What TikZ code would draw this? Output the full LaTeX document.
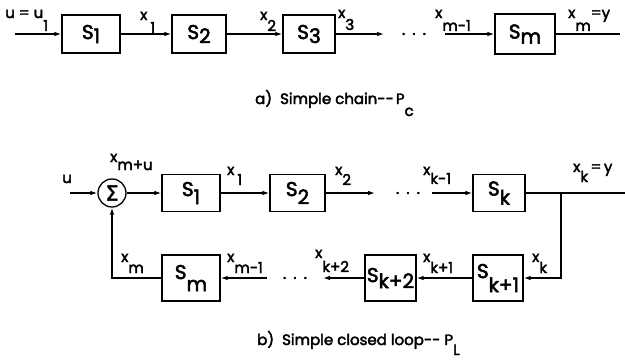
\documentclass[tikz,border=0pt]{standalone}
\usepackage{fontspec}
\setmainfont{Poppins}[FakeBold=2.6]
\newfontfamily\symf{DejaVu Sans}[FakeBold=1.6]
\usetikzlibrary{arrows.meta}
\newcommand{\lowr}[2][12pt]{\raisebox{-#1}{#2}}
\begin{document}
\begin{tikzpicture}[x=1pt,y=-1pt,
  blk/.style={draw,line width=1.3pt,inner sep=0pt,font=\fontsize{20}{22}\selectfont},
  lbl/.style={anchor=base west,inner sep=0pt,font=\fontsize{15}{16}\selectfont},
  captxt/.style={anchor=base west,inner sep=0pt,font=\fontsize{15}{16}\selectfont},
  dotsn/.style={inner sep=0pt,font=\fontsize{16}{16}\selectfont},
  sumn/.style={draw,circle,line width=1.3pt,minimum size=28pt,inner sep=0pt,font=\fontsize{21}{21}\selectfont\symf},
  wire/.style={line width=1.2pt,-{Latex[length=7pt,width=4.5pt]}},
  plain/.style={line width=1.2pt}]
\useasboundingbox (0,0) rectangle (625,364);
% ---------- a) simple chain ----------
\coordinate (in1) at (15,34);
\node[blk,minimum width=58pt,minimum height=38pt] (a1) at (91,34) {S\lowr[4pt]{1}};
\node[blk,minimum width=54pt,minimum height=38pt] (a2) at (199,34) {S\lowr[4pt]{2}};
\node[blk,minimum width=52pt,minimum height=38pt] (a3) at (309,34) {S\lowr[4pt]{3}};
\coordinate (a3e) at (384,34);
\node[dotsn] (ad) at (414,34) {.\hspace{7pt}.\hspace{7pt}.};
\coordinate (a4s) at (445,34);
\node[blk,minimum width=60pt,minimum height=40pt] (am) at (525,34) {S\lowr[5pt]{m}\hspace{10pt}};
\coordinate (out1) at (620,34);
\draw[wire] (in1) -- (a1);
\draw[wire] (a1) -- (a2);
\draw[wire] (a2) -- (a3);
\draw[wire] (a3) -- (a3e);
\draw[wire] (a4s) -- (am);
\draw[plain] (am) -- (out1);
\node[lbl] (lu) at (5,18) {u = u\lowr[13pt]{1}};
\node[lbl] (lx1) at (140,20) {x\hspace{3pt}\lowr[13pt]{1}};
\node[lbl] (lx2) at (260,20) {x\lowr[11pt]{2}};
\node[lbl] (lx3) at (338,18) {x\lowr[12pt]{3}};
\node[lbl] (lxm1) at (435,18) {x\lowr[13pt]{m-1}};
\node[lbl] (lxm) at (568,18) {x\lowr[13pt]{m}=y};
\node[captxt] (ca) at (255,104) {a)\hspace{8pt}Simple chain-{}-\hspace{2pt}P\lowr[12pt]{c}};
% ---------- b) simple closed loop ----------
\coordinate (in2) at (70,193);
\node[sumn] (sg) at (112,193) {Σ};
\node[blk,minimum width=58pt,minimum height=37pt] (b1) at (191,193) {S\lowr[8pt]{1}};
\node[blk,minimum width=55pt,minimum height=37pt] (b2) at (297.5,193) {S\lowr[8pt]{2}};
\coordinate (b2e) at (375,193);
\node[dotsn] (bd) at (408,193) {.\hspace{7pt}.\hspace{7pt}.};
\coordinate (bks) at (432,193);
\node[blk,minimum width=52pt,minimum height=37pt] (bk) at (499,193) {S\lowr[9pt]{k}};
\coordinate (br) at (561,193);
\coordinate (out2) at (625,193);
\node[blk,minimum width=50pt,minimum height=46pt] (bk1) at (498,278) {S\lowr[14pt]{k+1}};
\node[blk,minimum width=51pt,minimum height=46pt] (bk2) at (390.5,278) {S\lowr[6pt]{k+2}};
\coordinate (bk2e) at (323,278);
\node[dotsn] (bd2) at (295,278) {.\hspace{7pt}.\hspace{7pt}.};
\coordinate (bms) at (267,278);
\node[blk,minimum width=58pt,minimum height=46pt] (bm) at (191,278) {S\lowr[12pt]{m}};
\draw[wire] (in2) -- (sg);
\draw[wire] (sg) -- (b1);
\draw[wire] (b1) -- (b2);
\draw[wire] (b2) -- (b2e);
\draw[wire] (bks) -- (bk);
\draw[plain] (bk) -- (out2);
\draw[wire] (br) |- (bk1.east);
\draw[wire] (bk1) -- (bk2);
\draw[wire] (bk2) -- (bk2e);
\draw[wire] (bms) -- (bm);
\draw[wire] (bm.west) -| (sg.south);
\node[lbl] (lu2) at (62,183) {u};
\node[lbl] (lxmu) at (110,162) {x\lowr[8pt]{m+u}};
\node[lbl] (ly1) at (227,175) {x\hspace{3pt}\lowr[10pt]{1}};
\node[lbl] (ly2) at (335,175) {x\lowr[10pt]{2}};
\node[lbl] (lyk1) at (423,175) {x\lowr[9pt]{k-1}};
\node[lbl] (lyk) at (573,172) {x\lowr[10pt]{k}\,=\,y};
\node[lbl] (lzk) at (532,262) {x\lowr[11pt]{k}};
\node[lbl] (lzk1) at (423,262) {x\lowr[11pt]{k+1}};
\node[lbl] (lzk2) at (315,258) {x\lowr[14pt]{k+2}};
\node[lbl] (lzm1) at (227,262) {x\lowr[11pt]{m-1}};
\node[lbl] (lzm) at (121,262) {x\lowr[11pt]{m}};
\node[captxt] (cb) at (257,345) {b)\hspace{8pt}Simple closed loop-{}-\hspace{4pt}P\lowr[10pt]{L}};
\end{tikzpicture}
\end{document}
